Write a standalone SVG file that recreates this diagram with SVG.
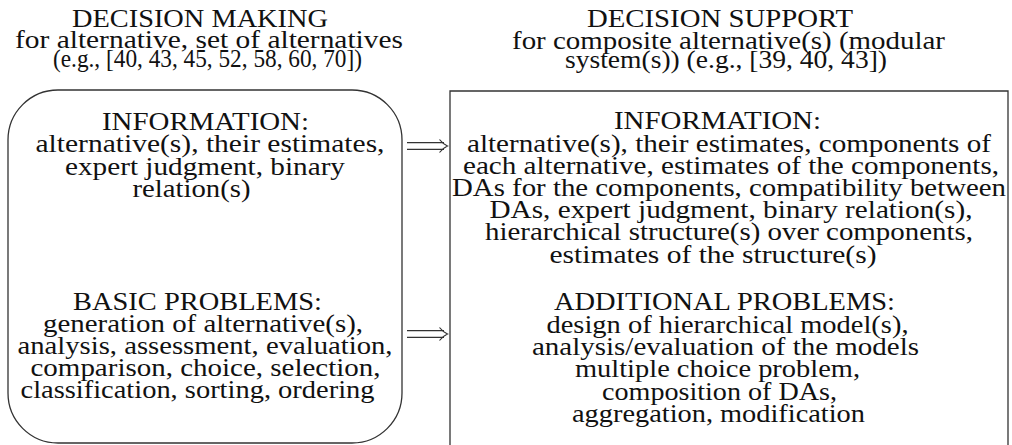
<svg xmlns="http://www.w3.org/2000/svg" width="1012" height="445" viewBox="0 0 1012 445" font-family="Liberation Serif, DejaVu Serif, serif">
  <style>
    text { font-size: 26px; fill: #111; text-anchor: middle; }
    .frame { fill: none; stroke: #333; stroke-width: 1.3; }
    .arrow { fill: none; stroke: #333; stroke-width: 1.2; stroke-linecap: butt; }
  </style>
  <rect width="1012" height="445" fill="#fff"/>

  <!-- column headings -->
  <g id="heading-decision-making" font-family="Liberation Serif, DejaVu Serif, serif">
    <text x="200" y="27" textLength="256" lengthAdjust="spacingAndGlyphs">DECISION MAKING</text>
    <text x="209" y="47.5" textLength="388" lengthAdjust="spacingAndGlyphs">for alternative, set of alternatives</text>
    <text x="207.5" y="66.5" textLength="309" lengthAdjust="spacingAndGlyphs">(e.g., [40, 43, 45, 52, 58, 60, 70])</text>
  </g>
  <g id="heading-decision-support" font-family="Liberation Serif, DejaVu Serif, serif">
    <text x="720" y="27" textLength="266" lengthAdjust="spacingAndGlyphs">DECISION SUPPORT</text>
    <text x="728.5" y="48.5" textLength="433" lengthAdjust="spacingAndGlyphs">for composite alternative(s) (modular</text>
    <text x="726" y="68" textLength="322" lengthAdjust="spacingAndGlyphs">system(s)) (e.g., [39, 40, 43])</text>
  </g>

  <!-- left panel: rounded frame -->
  <g id="decision-making" font-family="Liberation Serif, DejaVu Serif, serif">
    <rect class="frame" x="8" y="90" width="394" height="353" rx="50" ry="50"/>
    <text x="205.5" y="129.5" textLength="207" lengthAdjust="spacingAndGlyphs">INFORMATION:</text>
    <text x="210" y="152" textLength="349" lengthAdjust="spacingAndGlyphs">alternative(s), their estimates,</text>
    <text x="205" y="174.5" textLength="280" lengthAdjust="spacingAndGlyphs">expert judgment, binary</text>
    <text x="191.5" y="197" textLength="118" lengthAdjust="spacingAndGlyphs">relation(s)</text>

    <text x="197.5" y="309.5" textLength="249" lengthAdjust="spacingAndGlyphs">BASIC PROBLEMS:</text>
    <text x="203" y="331.5" textLength="320" lengthAdjust="spacingAndGlyphs">generation of alternative(s),</text>
    <text x="205" y="353.5" textLength="375" lengthAdjust="spacingAndGlyphs">analysis, assessment, evaluation,</text>
    <text x="205.5" y="375.5" textLength="350" lengthAdjust="spacingAndGlyphs">comparison, choice, selection,</text>
    <text x="197.5" y="397.5" textLength="354" lengthAdjust="spacingAndGlyphs">classification, sorting, ordering</text>
  </g>

  <!-- right panel: open-bottom frame -->
  <g id="decision-support" font-family="Liberation Serif, DejaVu Serif, serif">
    <path class="frame" d="M450,445 V91 H1008 V445"/>
    <text x="717.5" y="129" textLength="207" lengthAdjust="spacingAndGlyphs">INFORMATION:</text>
    <text x="729" y="151.5" textLength="524" lengthAdjust="spacingAndGlyphs">alternative(s), their estimates, components of</text>
    <text x="731" y="173.5" textLength="536" lengthAdjust="spacingAndGlyphs">each alternative, estimates of the components,</text>
    <text x="729" y="195.5" textLength="554" lengthAdjust="spacingAndGlyphs">DAs for the components, compatibility between</text>
    <text x="731" y="218" textLength="483" lengthAdjust="spacingAndGlyphs">DAs, expert judgment, binary relation(s),</text>
    <text x="729" y="240" textLength="488" lengthAdjust="spacingAndGlyphs">hierarchical structure(s) over components,</text>
    <text x="713" y="262.5" textLength="327" lengthAdjust="spacingAndGlyphs">estimates of the structure(s)</text>

    <text x="724.5" y="310" textLength="341" lengthAdjust="spacingAndGlyphs">ADDITIONAL PROBLEMS:</text>
    <text x="727.5" y="332.5" textLength="362" lengthAdjust="spacingAndGlyphs">design of hierarchical model(s),</text>
    <text x="725.5" y="355" textLength="387" lengthAdjust="spacingAndGlyphs">analysis/evaluation of the models</text>
    <text x="717.5" y="377" textLength="285" lengthAdjust="spacingAndGlyphs">multiple choice problem,</text>
    <text x="719.5" y="399.5" textLength="235" lengthAdjust="spacingAndGlyphs">composition of DAs,</text>
    <text x="718.5" y="422" textLength="293" lengthAdjust="spacingAndGlyphs">aggregation, modification</text>
  </g>

  <!-- double-shafted implication arrows between the panels -->
  <g id="connectors">
    <g id="arrow-information">
      <path class="arrow" d="M407,142.7 H444 M407,149.3 H444"/>
      <path class="arrow" d="M439.5,139.5 Q443,144 447.5,146 Q443,148 439.5,152.5"/>
    </g>
    <g id="arrow-problems">
      <path class="arrow" d="M407,330.7 H444 M407,337.3 H444"/>
      <path class="arrow" d="M439.5,327.5 Q443,332 447.5,334 Q443,336 439.5,340.5"/>
    </g>
  </g>
</svg>
